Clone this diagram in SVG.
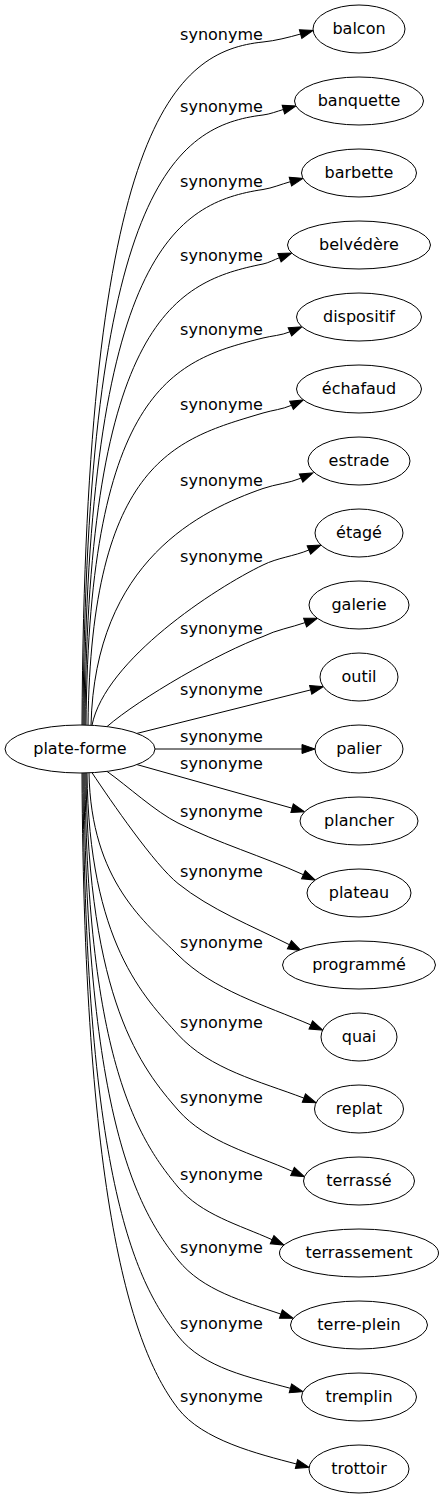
<svg xmlns="http://www.w3.org/2000/svg" width="444" height="1499" viewBox="0 0 444 1499">
<style>
text{font-family:"DejaVu Sans","Liberation Sans",sans-serif;font-size:16px;fill:#000}
.node ellipse{fill:#fff;stroke:#000;stroke-width:1}
.node text{text-anchor:middle}
#edges path{fill:none;stroke:#000;stroke-width:1;marker-end:url(#ah)}
#edges text{text-anchor:middle}
</style>
<defs>
<marker id="ah" viewBox="0 -5 14 10" refX="0" refY="0" markerWidth="14" markerHeight="10" markerUnits="userSpaceOnUse" orient="auto" overflow="visible">
<path d="M0,-4.5 L13,0 L0,4.5 Z" fill="#000" stroke="#000" stroke-width="1"/>
</marker>
</defs>
<rect width="444" height="1499" fill="#fff"/>
<g id="edges">
<path d="M82,725 C85,124 175,51 263,42 C275.7,40.7 288.3,37.5 300.6,34"/>
<path d="M83,725 C86,188 175.5,125.5 263,115 C270,114.2 276.7,111.4 283.4,109.5"/>
<path d="M84,725 C87,253.5 176,202.5 263,189.5 C272.4,188.1 281.2,184.2 290.4,181.7"/>
<path d="M85,725.1 C88,319 176.5,281.3 263,264 C268.8,262.8 274,259.8 279.5,257.7"/>
<path d="M86,725.1 C89,384 177,359.5 263,338 C271.9,335.8 281.4,335.4 289.9,331.8"/>
<path d="M88,725.1 C91,458 178,438.5 263,413 C272.4,410.2 282.6,409.3 291.5,405.3"/>
<path d="M91,725.3 C95,560 201.6,510 263,488.5 C275.5,484.1 289,483.3 301.1,478.1"/>
<path d="M92,725.3 C105,660 215,588 263,565 C277.3,557.8 294.1,556.2 308.9,550"/>
<path d="M107,726.6 C140,698 220,652 263,636.5 C276.2,629.9 291.1,627.5 305.1,622.6"/>
<path d="M137,733.4 L310.7,689.9"/>
<path d="M155,749 L302,749"/>
<path d="M137,764.6 L292.1,808.2"/>
<path d="M107,771.4 C127.4,785.9 155.6,811.8 178,823 C218.2,843.1 262.4,856.2 303.4,874.7"/>
<path d="M92,772.7 C111.4,801.8 154.6,864.8 178,883.5 C210.8,909.8 251.9,925.9 289.4,944.7"/>
<path d="M89,772.9 C91,882 146.2,923.2 178,955 C213.4,990.4 264.8,1005.1 310.8,1024.9"/>
<path d="M87,773 C89,943 144.4,997.5 178,1034.5 C209.6,1069.3 260,1081.4 303.9,1098.1"/>
<path d="M86,773 C88,1002 141.9,1068.5 178,1110 C206.2,1142.5 253.3,1153.8 292.5,1171.4"/>
<path d="M85,773 C87,1063 139.6,1140.9 178,1187 C201,1214.6 239.3,1224.9 272.1,1239.7"/>
<path d="M84,773 C86,1123.6 139.3,1211.6 178,1260 C202.4,1290.5 244,1301.5 280.9,1314.1"/>
<path d="M83,773 C85,1189.6 138,1284.8 178,1336 C203.3,1368.3 250.8,1377.6 290.4,1388.3"/>
<path d="M82,773 C84,1217 135.3,1353 178,1408.5 C202.4,1440.2 257.8,1453.9 296.5,1464"/>
<text x="221.5" y="39.5">synonyme</text>
<text x="221.5" y="112">synonyme</text>
<text x="221.5" y="186.5">synonyme</text>
<text x="221.5" y="261">synonyme</text>
<text x="221.5" y="335">synonyme</text>
<text x="221.5" y="410">synonyme</text>
<text x="221.5" y="485.5">synonyme</text>
<text x="221.5" y="562">synonyme</text>
<text x="221.5" y="633.5">synonyme</text>
<text x="221.5" y="694.5">synonyme</text>
<text x="221.5" y="741.5">synonyme</text>
<text x="221.5" y="769">synonyme</text>
<text x="221.5" y="816.5">synonyme</text>
<text x="221.5" y="876.5">synonyme</text>
<text x="221.5" y="948">synonyme</text>
<text x="221.5" y="1027.5">synonyme</text>
<text x="221.5" y="1103">synonyme</text>
<text x="221.5" y="1180">synonyme</text>
<text x="221.5" y="1253">synonyme</text>
<text x="221.5" y="1329">synonyme</text>
<text x="221.5" y="1401.5">synonyme</text>
</g>
<g id="plate-forme" class="node"><ellipse cx="80" cy="749" rx="75" ry="24"/><text x="80" y="754">plate-forme</text></g>
<g id="balcon" class="node"><ellipse cx="359" cy="29" rx="46" ry="24"/><text x="359" y="34">balcon</text></g>
<g id="banquette" class="node"><ellipse cx="359" cy="101" rx="64.5" ry="24"/><text x="359" y="106">banquette</text></g>
<g id="barbette" class="node"><ellipse cx="359" cy="173" rx="57.5" ry="24"/><text x="359" y="178">barbette</text></g>
<g id="belvedere" class="node"><ellipse cx="359" cy="245" rx="71.5" ry="24"/><text x="359" y="250">belvédère</text></g>
<g id="dispositif" class="node"><ellipse cx="359" cy="317" rx="62.5" ry="24"/><text x="359" y="322">dispositif</text></g>
<g id="echafaud" class="node"><ellipse cx="359" cy="389" rx="62.5" ry="24"/><text x="359" y="394">échafaud</text></g>
<g id="estrade" class="node"><ellipse cx="359" cy="461" rx="51" ry="24"/><text x="359" y="466">estrade</text></g>
<g id="etage" class="node"><ellipse cx="359" cy="533" rx="44" ry="24"/><text x="359" y="538">étagé</text></g>
<g id="galerie" class="node"><ellipse cx="359" cy="605" rx="50" ry="24"/><text x="359" y="610">galerie</text></g>
<g id="outil" class="node"><ellipse cx="359" cy="677" rx="39" ry="24"/><text x="359" y="682">outil</text></g>
<g id="palier" class="node"><ellipse cx="359" cy="749" rx="44" ry="24"/><text x="359" y="754">palier</text></g>
<g id="plancher" class="node"><ellipse cx="359" cy="821" rx="59" ry="24"/><text x="359" y="826">plancher</text></g>
<g id="plateau" class="node"><ellipse cx="359" cy="893" rx="52" ry="24"/><text x="359" y="898">plateau</text></g>
<g id="programme" class="node"><ellipse cx="359" cy="965" rx="76.5" ry="24"/><text x="359" y="970">programmé</text></g>
<g id="quai" class="node"><ellipse cx="359" cy="1037" rx="38" ry="24"/><text x="359" y="1042">quai</text></g>
<g id="replat" class="node"><ellipse cx="359" cy="1109" rx="44.5" ry="24"/><text x="359" y="1114">replat</text></g>
<g id="terrasse" class="node"><ellipse cx="359" cy="1181" rx="55.5" ry="24"/><text x="359" y="1186">terrassé</text></g>
<g id="terrassement" class="node"><ellipse cx="359" cy="1253" rx="79.5" ry="24"/><text x="359" y="1258">terrassement</text></g>
<g id="terre-plein" class="node"><ellipse cx="359" cy="1325" rx="68.5" ry="24"/><text x="359" y="1330">terre-plein</text></g>
<g id="tremplin" class="node"><ellipse cx="359" cy="1397" rx="57.5" ry="24"/><text x="359" y="1402">tremplin</text></g>
<g id="trottoir" class="node"><ellipse cx="359" cy="1469" rx="50" ry="24"/><text x="359" y="1474">trottoir</text></g>
</svg>
